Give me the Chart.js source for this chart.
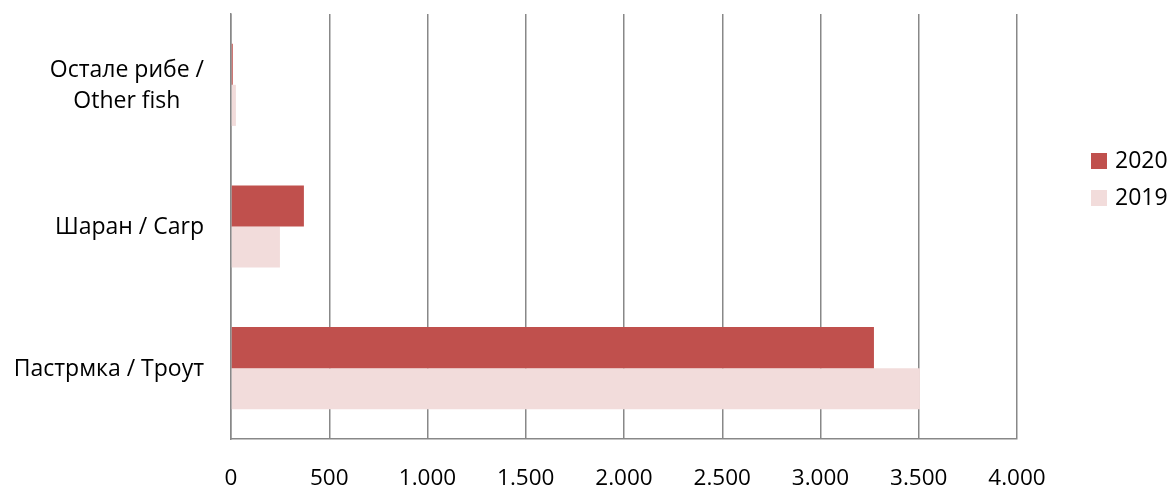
<!DOCTYPE html>
<html>
<head>
<meta charset="utf-8">
<script src="https://cdn.jsdelivr.net/npm/chart.js@4/dist/chart.umd.min.js"></script>
<style>
  html, body { margin: 0; padding: 0; background: #fff; }
  #wrap { width: 1173px; height: 485px; }
</style>
</head>
<body>
<div id="wrap"><canvas id="myChart"></canvas></div>
<script>
// Подаци са графика
const categories = [
  ['Остале рибе /', 'Other fish'],
  ['Шаран / Carp'],
  ['Пастрмка / Троут']
];
const seriesNames = ['2020', '2019'];
const values2020 = [9, 371, 3272];
const values2019 = [25, 249, 3506];
const tickLabels = ['0', '500', '1.000', '1.500', '2.000', '2.500', '3.000', '3.500', '4.000'];

const FONT = '"Open Sans", sans-serif';

// Ознаке категорија: сваки ред центриран у свом блоку
const categoryLabels = {
  id: 'categoryLabels',
  afterDraw(chart) {
    const ctx = chart.ctx;
    const scale = chart.scales.y;
    ctx.save();
    ctx.font = '23px ' + FONT;
    ctx.fillStyle = '#000';
    ctx.textAlign = 'center';
    ctx.textBaseline = 'middle';
    const lineH = 31;
    categories.forEach(function(lines, i) {
      const y = scale.getPixelForTick(i) + 1;
      let w = 0;
      lines.forEach(function(l) { w = Math.max(w, ctx.measureText(l).width); });
      const cx = 204 - w / 2;
      const y0 = y - (lines.length - 1) * lineH / 2;
      lines.forEach(function(l, k) { ctx.fillText(l, cx, y0 + k * lineH); });
    });
    ctx.restore();
  }
};

// Легенда десно
const sideLegend = {
  id: 'sideLegend',
  afterDraw(chart) {
    const ctx = chart.ctx;
    ctx.save();
    ctx.font = '23px ' + FONT;
    ctx.textBaseline = 'middle';
    chart.data.datasets.forEach(function(ds, i) {
      const y = 161 + i * 37;
      ctx.fillStyle = ds.backgroundColor;
      ctx.fillRect(1091, y - 8, 16, 16);
      ctx.fillStyle = '#000';
      ctx.fillText(ds.label, 1115, y);
    });
    ctx.restore();
  }
};

const ctx = document.getElementById('myChart').getContext('2d');
window.myChart = new Chart(ctx, {
  type: 'bar',
  data: {
    labels: categories,
    datasets: [{
      label: seriesNames[0],
      data: values2020,
      backgroundColor: '#C0504D',
      categoryPercentage: 0.58,
      barPercentage: 1
    }, {
      label: seriesNames[1],
      data: values2019,
      backgroundColor: '#F2DCDB',
      categoryPercentage: 0.58,
      barPercentage: 1
    }]
  },
  options: {
    indexAxis: 'y',
    responsive: true,
    maintainAspectRatio: false,
    animation: false,
    layout: { padding: { top: 14, right: 156, left: 0, bottom: 0 } },
    plugins: {
      legend: { display: false },
      tooltip: { enabled: false }
    },
    scales: {
      x: {
        min: 0,
        max: 4000,
        ticks: {
          stepSize: 500,
          color: '#000',
          font: { family: FONT, size: 22.5 },
          padding: 26,
          callback: function(value, index) { return tickLabels[index]; }
        },
        grid: { color: '#888', lineWidth: 1.5, drawTicks: false },
        border: { color: '#888', width: 1.5 },
        afterFit: function(scale) { scale.height = 46; }
      },
      y: {
        ticks: { display: false },
        grid: { display: false, drawTicks: false },
        border: { color: '#888', width: 1.5 },
        afterFit: function(scale) { scale.width = 231; }
      }
    }
  },
  plugins: [categoryLabels, sideLegend]
});
</script>
</body>
</html>
